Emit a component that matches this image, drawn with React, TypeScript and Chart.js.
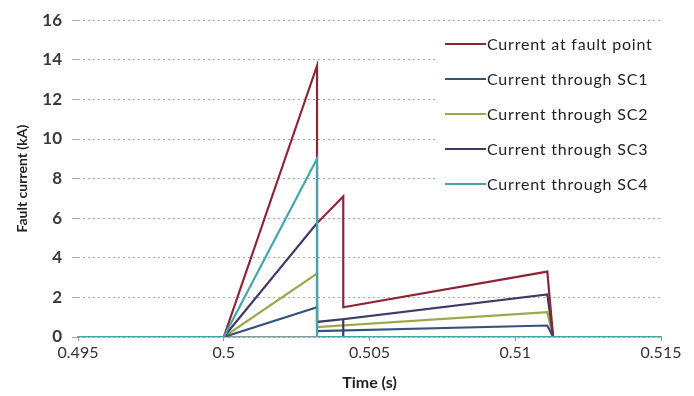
import React, { useEffect, useRef } from "react";
import { Chart, registerables } from "chart.js";

Chart.register(...registerables);

// ---- data ----
const xTickValues = [0.495, 0.5, 0.505, 0.51, 0.515];
const yTickValues = [0, 2, 4, 6, 8, 10, 12, 14, 16];

const seriesNames = [
  "Current at fault point",
  "Current through SC1",
  "Current through SC2",
  "Current through SC3",
  "Current through SC4",
];

const faultTime = [0.495, 0.5, 0.5032, 0.5032, 0.5041, 0.5041, 0.5111, 0.5113, 0.515];
const faultCurrent = [0, 0, 13.7, 5.75, 7.1, 1.5, 3.3, 0, 0];

const sc1Time = [0.495, 0.5, 0.5032, 0.5032, 0.5111, 0.5113, 0.515];
const sc1Current = [0, 0, 1.5, 0.3, 0.58, 0, 0];

const sc2Time = [0.495, 0.5, 0.5032, 0.5032, 0.5111, 0.5113, 0.515];
const sc2Current = [0, 0, 3.2, 0.5, 1.25, 0, 0];

const sc3Time = [0.495, 0.5, 0.5032, 0.5032, 0.5041, 0.5041, 0.5041, 0.5111, 0.5113, 0.515];
const sc3Current = [0, 0, 5.75, 0.76, 0.9, 0, 0.9, 2.15, 0, 0];

const sc4Time = [0.495, 0.5, 0.5032, 0.5032, 0.515];
const sc4Current = [0, 0, 9.0, 0, 0];

const seriesColors = ["#8c2535", "#35537a", "#9aa94a", "#3d3a68", "#45a6ad"];
const seriesOrder = [1, 3, 4, 2, 0];

const toPoints = (t: number[], v: number[]) => t.map((x, i) => ({ x, y: v[i] }));

const legendPlugin = {
  id: "insideLegend",
  afterDraw(chart: any) {
    const ctx = chart.ctx;
    ctx.save();
    ctx.fillStyle = "#ffffff";
    ctx.fillRect(438, 25, 226, 176);
    ctx.font = "16px Lato";
    (ctx as any).letterSpacing = "0.8px";
    ctx.textBaseline = "middle";
    seriesNames.forEach((name, i) => {
      const y = 44 + i * 35;
      ctx.strokeStyle = seriesColors[i];
      ctx.lineWidth = 2.2;
      ctx.beginPath();
      ctx.moveTo(445, y);
      ctx.lineTo(486, y);
      ctx.stroke();
      ctx.fillStyle = "#222222";
      ctx.fillText(name, 487, y + 1);
    });
    ctx.restore();
  },
};

export default function App() {
  const canvasRef = useRef<HTMLCanvasElement | null>(null);

  useEffect(() => {
    if (!canvasRef.current) return;
    const series = [
      toPoints(faultTime, faultCurrent),
      toPoints(sc1Time, sc1Current),
      toPoints(sc2Time, sc2Current),
      toPoints(sc3Time, sc3Current),
      toPoints(sc4Time, sc4Current),
    ];
    const chart = new Chart(canvasRef.current, {
      type: "line",
      data: {
        datasets: series.map((data, i) => ({
          label: seriesNames[i],
          data,
          borderColor: seriesColors[i],
          backgroundColor: seriesColors[i],
          borderWidth: 2.2,
          pointRadius: 0,
          tension: 0,
          order: seriesOrder[i],
        })),
      },
      options: {
        responsive: false,
        animation: false,
        layout: { padding: { left: 0, right: 33, top: 13, bottom: 0 } },
        plugins: { legend: { display: false }, tooltip: { enabled: false } },
        scales: {
          x: {
            type: "linear",
            min: 0.495,
            max: 0.515,
            afterBuildTicks: (scale: any) => {
              scale.ticks = xTickValues.map((v) => ({ value: v }));
            },
            afterFit: (scale: any) => {
              scale.height = 59;
            },
            ticks: {
              callback: (v: any) => String(+Number(v).toFixed(3)),
              font: { family: "Lato", size: 16 },
              color: "#333333",
              padding: 2,
              maxRotation: 0,
            },
            grid: {
              drawOnChartArea: false,
              drawTicks: true,
              tickLength: 4,
              color: "#8a9aa5",
            },
            border: { display: true, color: "#8a9aa5", width: 1.5 },
            title: {
              display: true,
              text: "Time (s)",
              font: { family: "Lato", size: 16, weight: "bold" },
              color: "#222222",
              padding: { top: 0, bottom: 4 },
            },
          },
          y: {
            type: "linear",
            min: 0,
            max: 16,
            afterBuildTicks: (scale: any) => {
              scale.ticks = yTickValues.map((v) => ({ value: v }));
            },
            afterFit: (scale: any) => {
              scale.width = 78;
            },
            ticks: {
              font: { family: "Lato", size: 17, weight: "bold" },
              color: "#3a3a3a",
              padding: 10,
            },
            grid: {
              color: "#a8a8a8",
              lineWidth: 1,
              tickLength: 6,
              tickColor: "#a8a8a8",
            },
            border: { display: false, dash: [2, 3] },
            title: {
              display: true,
              text: "Fault current (kA)",
              font: { family: "Lato", size: 14, weight: "bold" },
              color: "#222222",
              padding: { top: 14, bottom: 0 },
            },
          },
        },
      },
      plugins: [legendPlugin],
    } as any);
    return () => chart.destroy();
  }, []);

  return (
    <div style={{ position: "fixed", left: 0, top: 0, width: 694, height: 396, background: "#ffffff" }}>
      <canvas ref={canvasRef} width={694} height={396} style={{ display: "block", width: 694, height: 396 }} />
    </div>
  );
}
